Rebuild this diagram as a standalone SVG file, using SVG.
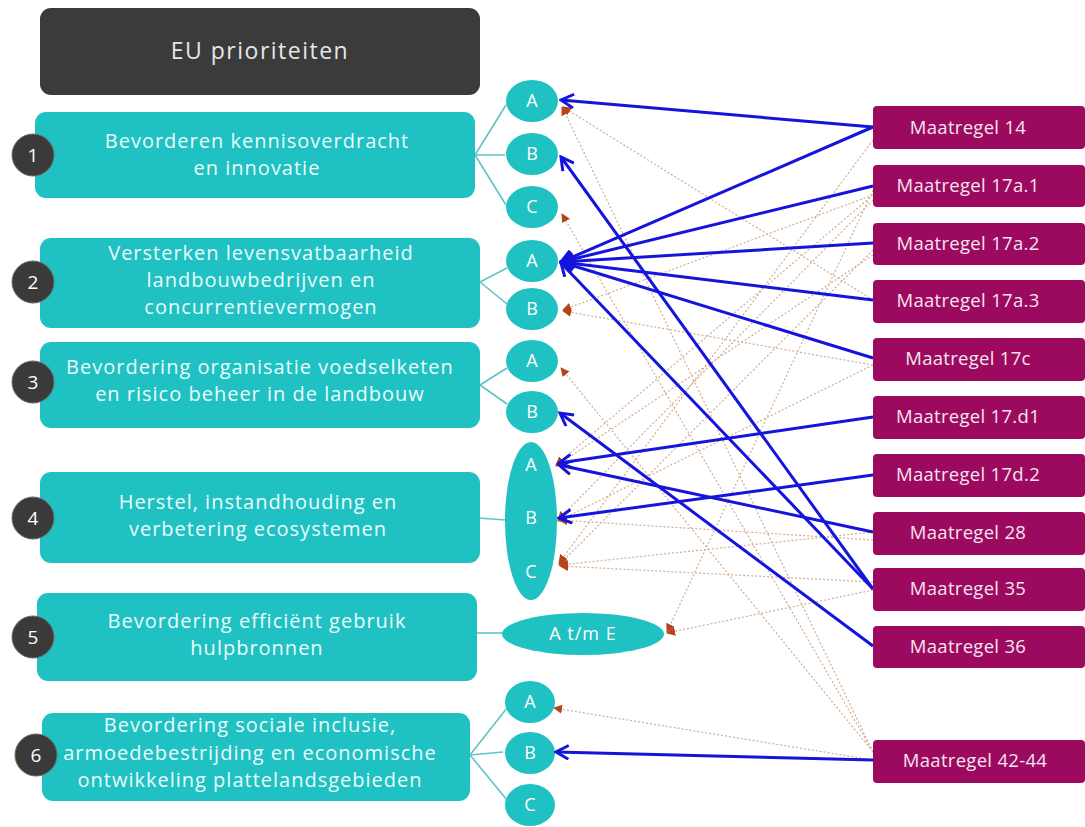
<svg xmlns="http://www.w3.org/2000/svg" width="1085" height="827" viewBox="0 0 1085 827">
<style>
.bg{fill:#ffffff}
.hdr{fill:#3b3b3b}
.prio{fill:#1fc1c3}
.num{fill:#3a3a3a;stroke:#6a6a6a;stroke-width:1}
.ell{fill:#1fc1c3}
.mr{fill:#9b0a5f}
.t{font-family:"Open Sans","Liberation Sans",sans-serif;fill:#eafcfc;font-size:20px;text-anchor:middle;letter-spacing:1px}
.th{font-family:"Open Sans","Liberation Sans",sans-serif;fill:#e6e6e6;font-size:23px;text-anchor:middle;letter-spacing:1.5px}
.tn{font-family:"Open Sans","Liberation Sans",sans-serif;fill:#ffffff;font-size:19px;text-anchor:middle}
.te{font-family:"Open Sans","Liberation Sans",sans-serif;fill:#ffffff;font-size:18px;text-anchor:middle}
.tm{font-family:"Open Sans","Liberation Sans",sans-serif;fill:#f6e4f0;font-size:18.5px;text-anchor:middle;letter-spacing:0.3px}
.tree{stroke:#5fc4c6;stroke-width:1.6;fill:none}
.blue{stroke:#1414dc;stroke-width:3;fill:none;marker-end:url(#ab)}
.dot{stroke:#d2ad90;stroke-width:1.2;stroke-dasharray:2 2;fill:none;marker-end:url(#ad)}
</style>
<defs>
<marker id="ab" viewBox="0 0 14 14" refX="12" refY="7" markerWidth="16" markerHeight="16" markerUnits="userSpaceOnUse" orient="auto">
<path d="M1,1 L12,7 L1,13" fill="none" stroke="#1414dc" stroke-width="2.6"/>
</marker>
<marker id="ad" viewBox="0 0 10 10" refX="9" refY="5" markerWidth="9" markerHeight="9" markerUnits="userSpaceOnUse" orient="auto">
<path d="M0,0 L10,5 L0,10 Z" fill="#b5441c"/>
</marker>
</defs>
<rect class="bg" x="0" y="0" width="1085" height="827"/>

<g id="header">
<rect class="hdr" x="40" y="8" width="440" height="87" rx="11"/>
<text class="th" x="260" y="59">EU prioriteiten</text>
</g>

<g id="tree-lines">
<path class="tree" d="M475,155 L506,105 M475,155 L505,155 M475,155 L506,205"/>
<path class="tree" d="M480,282 L507,268 M480,282 L507,304"/>
<path class="tree" d="M480,385 L507,368 M480,385 L507,404"/>
<path class="tree" d="M478,518 L506,520"/>
<path class="tree" d="M477,633 L503,633"/>
<path class="tree" d="M470,755 L507,708 M470,755 L503,752 M470,755 L507,800"/>
</g>

<g id="p1">
<rect class="prio" x="35" y="112" width="440" height="86" rx="11"/>
<circle class="num" cx="33" cy="155" r="21"/>
<text class="tn" x="33" y="162">1</text>
<text class="t" x="257" y="148">Bevorderen kennisoverdracht</text>
<text class="t" x="257" y="175">en innovatie</text>
</g>
<g id="p2">
<rect class="prio" x="40" y="238" width="440" height="90" rx="11"/>
<circle class="num" cx="33" cy="282" r="21"/>
<text class="tn" x="33" y="289">2</text>
<text class="t" x="261" y="260">Versterken levensvatbaarheid</text>
<text class="t" x="261" y="287">landbouwbedrijven en</text>
<text class="t" x="261" y="314">concurrentievermogen</text>
</g>
<g id="p3">
<rect class="prio" x="40" y="342" width="440" height="86" rx="11"/>
<circle class="num" cx="33" cy="382" r="21"/>
<text class="tn" x="33" y="389">3</text>
<text class="t" x="260" y="374">Bevordering organisatie voedselketen</text>
<text class="t" x="260" y="401">en risico beheer in de landbouw</text>
</g>
<g id="p4">
<rect class="prio" x="40" y="472" width="440" height="91" rx="11"/>
<circle class="num" cx="33" cy="518" r="21"/>
<text class="tn" x="33" y="525">4</text>
<text class="t" x="258" y="509">Herstel, instandhouding en</text>
<text class="t" x="258" y="536">verbetering ecosystemen</text>
</g>
<g id="p5">
<rect class="prio" x="37" y="593" width="440" height="88" rx="11"/>
<circle class="num" cx="33" cy="637" r="21"/>
<text class="tn" x="33" y="644">5</text>
<text class="t" x="257" y="628">Bevordering efficiënt gebruik</text>
<text class="t" x="257" y="655">hulpbronnen</text>
</g>
<g id="p6">
<rect class="prio" x="42" y="713" width="428" height="88" rx="11"/>
<circle class="num" cx="36" cy="755" r="21"/>
<text class="tn" x="36" y="762">6</text>
<text class="t" x="250" y="732">Bevordering sociale inclusie,</text>
<text class="t" x="250" y="760">armoedebestrijding en economische</text>
<text class="t" x="250" y="787">ontwikkeling plattelandsgebieden</text>
</g>

<g id="p1-sub">
<ellipse class="ell" cx="532" cy="101" rx="26" ry="21"/><text class="te" x="532" y="107">A</text>
<ellipse class="ell" cx="532" cy="154" rx="26" ry="21"/><text class="te" x="532" y="160">B</text>
<ellipse class="ell" cx="532" cy="207" rx="26" ry="21"/><text class="te" x="532" y="213">C</text>
</g>
<g id="p2-sub">
<ellipse class="ell" cx="532" cy="261" rx="26" ry="21"/><text class="te" x="532" y="267">A</text>
<ellipse class="ell" cx="532" cy="309" rx="26" ry="21"/><text class="te" x="532" y="315">B</text>
</g>
<g id="p3-sub">
<ellipse class="ell" cx="532" cy="361" rx="26" ry="21"/><text class="te" x="532" y="367">A</text>
<ellipse class="ell" cx="532" cy="412" rx="26" ry="21"/><text class="te" x="532" y="418">B</text>
</g>
<g id="p4-sub">
<ellipse class="ell" cx="531" cy="521" rx="26" ry="79"/>
<text class="te" x="531" y="471">A</text>
<text class="te" x="531" y="524">B</text>
<text class="te" x="531" y="578">C</text>
</g>
<g id="p5-sub">
<ellipse class="ell" cx="583" cy="634" rx="81" ry="21"/>
<text class="te" x="583" y="640" style="letter-spacing:1px">A t/m E</text>
</g>
<g id="p6-sub">
<ellipse class="ell" cx="530" cy="702" rx="25" ry="21"/><text class="te" x="530" y="708">A</text>
<ellipse class="ell" cx="530" cy="753" rx="25" ry="21"/><text class="te" x="530" y="759">B</text>
<ellipse class="ell" cx="530" cy="805" rx="25" ry="21"/><text class="te" x="530" y="811">C</text>
</g>

<g id="connectors">
<line class="dot" x1="873" y1="752" x2="562" y2="107"/>
<line class="dot" x1="873" y1="752" x2="562" y2="214"/>
<line class="dot" x1="873" y1="752" x2="561" y2="368"/>
<line class="dot" x1="873" y1="760" x2="554" y2="708"/>
<line class="dot" x1="873" y1="300" x2="563" y2="107"/>
<line class="dot" x1="873" y1="195" x2="563" y2="310"/>
<line class="dot" x1="873" y1="195" x2="556" y2="465"/>
<line class="dot" x1="873" y1="200" x2="558" y2="520"/>
<line class="dot" x1="873" y1="190" x2="667" y2="632"/>
<line class="dot" x1="873" y1="250" x2="559" y2="565"/>
<line class="dot" x1="873" y1="255" x2="556" y2="466"/>
<line class="dot" x1="873" y1="365" x2="558" y2="521"/>
<line class="dot" x1="873" y1="140" x2="559" y2="563"/>
<line class="dot" x1="873" y1="540" x2="559" y2="520"/>
<line class="dot" x1="873" y1="532" x2="560" y2="565"/>
<line class="dot" x1="873" y1="582" x2="560" y2="566"/>
<line class="dot" x1="873" y1="590" x2="667" y2="633"/>
<line class="dot" x1="873" y1="365" x2="563" y2="311"/>

<line class="blue" x1="873" y1="127" x2="561" y2="100"/>
<line class="blue" x1="873" y1="127" x2="561" y2="262"/>
<line class="blue" x1="873" y1="186" x2="561" y2="262"/>
<line class="blue" x1="873" y1="243" x2="561" y2="262"/>
<line class="blue" x1="873" y1="300" x2="561" y2="262"/>
<line class="blue" x1="873" y1="358" x2="561" y2="262"/>
<line class="blue" x1="873" y1="589" x2="561" y2="263"/>
<line class="blue" x1="873" y1="589" x2="561" y2="157"/>
<line class="blue" x1="873" y1="417" x2="559" y2="463"/>
<line class="blue" x1="873" y1="475" x2="559" y2="518"/>
<line class="blue" x1="873" y1="532" x2="559" y2="465"/>
<line class="blue" x1="873" y1="646" x2="560" y2="413"/>
<line class="blue" x1="873" y1="760" x2="556" y2="752"/>
</g>

<g id="m14"><rect class="mr" x="873" y="106" width="212" height="43" rx="4"/><text class="tm" x="968" y="134">Maatregel 14</text></g>
<g id="m17a1"><rect class="mr" x="873" y="165" width="212" height="42" rx="4"/><text class="tm" x="968" y="192">Maatregel 17a.1</text></g>
<g id="m17a2"><rect class="mr" x="873" y="223" width="212" height="42" rx="4"/><text class="tm" x="968" y="250">Maatregel 17a.2</text></g>
<g id="m17a3"><rect class="mr" x="873" y="280" width="212" height="43" rx="4"/><text class="tm" x="968" y="307">Maatregel 17a.3</text></g>
<g id="m17c"><rect class="mr" x="873" y="338" width="212" height="43" rx="4"/><text class="tm" x="968" y="365">Maatregel 17c</text></g>
<g id="m17d1"><rect class="mr" x="873" y="396" width="212" height="43" rx="4"/><text class="tm" x="968" y="423">Maatregel 17.d1</text></g>
<g id="m17d2"><rect class="mr" x="873" y="454" width="212" height="43" rx="4"/><text class="tm" x="968" y="481">Maatregel 17d.2</text></g>
<g id="m28"><rect class="mr" x="873" y="512" width="212" height="43" rx="4"/><text class="tm" x="968" y="539">Maatregel 28</text></g>
<g id="m35"><rect class="mr" x="873" y="568" width="212" height="43" rx="4"/><text class="tm" x="968" y="595">Maatregel 35</text></g>
<g id="m36"><rect class="mr" x="873" y="626" width="212" height="42" rx="4"/><text class="tm" x="968" y="653">Maatregel 36</text></g>
<g id="m4244"><rect class="mr" x="873" y="740" width="212" height="43" rx="4"/><text class="tm" x="975" y="767">Maatregel 42-44</text></g>
</svg>
